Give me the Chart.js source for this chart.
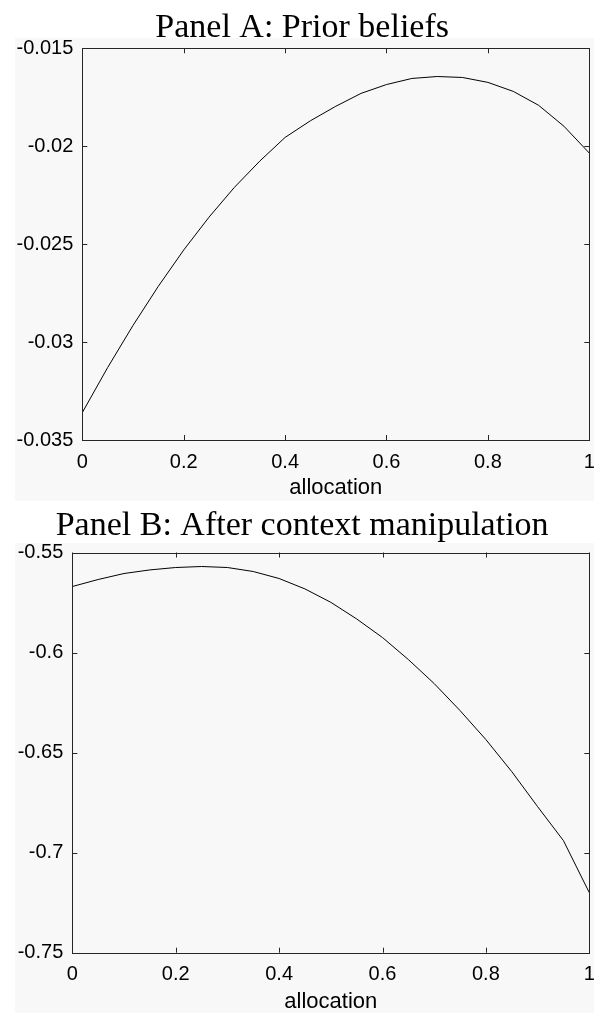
<!DOCTYPE html>
<html>
<head>
<meta charset="utf-8">
<script src="https://cdn.jsdelivr.net/npm/chart.js@4.4.1/dist/chart.umd.min.js"></script>
<style>
  body { margin: 0; background: #fff; overflow: hidden; }
  canvas { display: block; }
</style>
</head>
<body>
<canvas id="panelA" width="594" height="501"></canvas>
<canvas id="panelB" width="594" height="512"></canvas>
<script>
// allocation grid (x) and the two utility curves
const allocation = [
  0, 0.05, 0.1, 0.15, 0.2, 0.25, 0.3, 0.35, 0.4, 0.45, 0.5,
  0.55, 0.6, 0.65, 0.7, 0.75, 0.8, 0.85, 0.9, 0.95, 1,
];
const priorUtility = [
  -0.0336, -0.0313, -0.02915, -0.02715, -0.0253, -0.02362, -0.0221,
  -0.02076, -0.01955, -0.0187, -0.01796, -0.0173, -0.01685, -0.01654,
  -0.01644, -0.01649, -0.01674, -0.0172, -0.01791, -0.01898, -0.02035,
];
const contextUtility = [
  -0.567, -0.5635, -0.5605, -0.5587, -0.5575, -0.557, -0.5575, -0.5595,
  -0.563, -0.5682, -0.5749, -0.5832, -0.5925, -0.6035, -0.6155, -0.629,
  -0.6435, -0.6595, -0.677, -0.694, -0.72,
];

// tick values
const xTicks = [0, 0.2, 0.4, 0.6, 0.8, 1];
const yTicksA = [-0.035, -0.03, -0.025, -0.02, -0.015];
const yTicksB = [-0.75, -0.7, -0.65, -0.6, -0.55];

const sans = "'Liberation Sans', Arial, sans-serif";
const tickFont = { family: sans, size: 20 };
const labelFont = { family: sans, size: 22 };
const titleFont = { family: "'Liberation Serif', 'Times New Roman', serif", size: 34 };

// grey figure background + boxed axes with inward ticks (matlab look)
const frameTicks = {
  id: "frameTicks",
  beforeDraw(chart, args, opts) {
    const ctx = chart.ctx;
    ctx.save();
    ctx.fillStyle = "#f8f8f8";
    ctx.fillRect(15, opts.bgTop, chart.width - 15, chart.height - opts.bgTop);
    ctx.restore();
  },
  afterDatasetsDraw(chart) {
    const { ctx, chartArea: a, scales } = chart;
    const len = 5;
    ctx.save();
    ctx.strokeStyle = "#262626";
    ctx.lineWidth = 1;
    ctx.beginPath();
    scales.x.ticks.forEach((t) => {
      const px = Math.round(scales.x.getPixelForValue(t.value)) + 0.5;
      ctx.moveTo(px, a.bottom);
      ctx.lineTo(px, a.bottom - len);
      ctx.moveTo(px, a.top);
      ctx.lineTo(px, a.top + len);
    });
    scales.y.ticks.forEach((t) => {
      const py = Math.round(scales.y.getPixelForValue(t.value)) + 0.5;
      ctx.moveTo(a.left, py);
      ctx.lineTo(a.left + len, py);
      ctx.moveTo(a.right, py);
      ctx.lineTo(a.right - len, py);
    });
    ctx.stroke();
    ctx.strokeRect(
      Math.round(a.left) + 0.5,
      Math.round(a.top) + 0.5,
      Math.round(a.right - a.left),
      Math.round(a.bottom - a.top)
    );
    ctx.restore();
  },
};

function makePanel(id, title, values, yTicks, cfg) {
  const points = allocation.map((x, i) => ({ x: x, y: values[i] }));
  return new Chart(document.getElementById(id), {
    type: "line",
    data: {
      datasets: [
        {
          data: points,
          borderColor: "#000",
          borderWidth: 1,
          pointRadius: 0,
          tension: 0,
          fill: false,
        },
      ],
    },
    options: {
      responsive: false,
      animation: false,
      layout: { padding: { left: 15, right: 4.7, top: 0, bottom: 0 } },
      plugins: {
        legend: { display: false },
        tooltip: { enabled: false },
        title: {
          display: true,
          text: title,
          color: "#000",
          font: Object.assign({ weight: "normal", lineHeight: 1.2 }, titleFont),
          padding: { top: cfg.titleTop, bottom: cfg.titleBottom },
        },
        frameTicks: { bgTop: cfg.bgTop },
      },
      scales: {
        x: {
          type: "linear",
          min: 0,
          max: 1,
          grid: { display: false, drawTicks: false },
          border: { display: false },
          afterBuildTicks: (s) => {
            s.ticks = xTicks.map((v) => ({ value: v }));
          },
          afterFit: (s) => {
            s.height = cfg.xHeight;
            s.paddingLeft = 0;
            s.paddingRight = 0;
          },
          ticks: {
            color: "#000",
            font: tickFont,
            padding: 10,
            maxRotation: 0,
            callback: (v) => String(+v.toFixed(2)),
          },
          title: {
            display: true,
            text: "allocation",
            color: "#000",
            font: labelFont,
            padding: { top: 0, bottom: cfg.xTitleBottom },
          },
        },
        y: {
          type: "linear",
          min: yTicks[0],
          max: yTicks[yTicks.length - 1],
          grid: { display: false, drawTicks: false },
          border: { display: false },
          afterBuildTicks: (s) => {
            s.ticks = yTicks.map((v) => ({ value: v }));
          },
          afterFit: (s) => {
            s.width = cfg.yWidth;
          },
          ticks: {
            color: "#000",
            font: tickFont,
            padding: 9,
            callback: (v) => String(+v.toFixed(3)),
          },
        },
      },
    },
    plugins: [frameTicks],
  });
}

makePanel("panelA", "Panel A: Prior beliefs", priorUtility, yTicksA, {
  titleTop: 7.5,
  titleBottom: 0,
  bgTop: 38,
  xHeight: 61,
  xTitleBottom: 0,
  yWidth: 67.3,
});

makePanel("panelB", "Panel B: After context manipulation", contextUtility, yTicksB, {
  titleTop: 4.2,
  titleBottom: 6.5,
  bgTop: 42,
  xHeight: 60.3,
  xTitleBottom: -2.5,
  yWidth: 57.3,
});
</script>
</body>
</html>
